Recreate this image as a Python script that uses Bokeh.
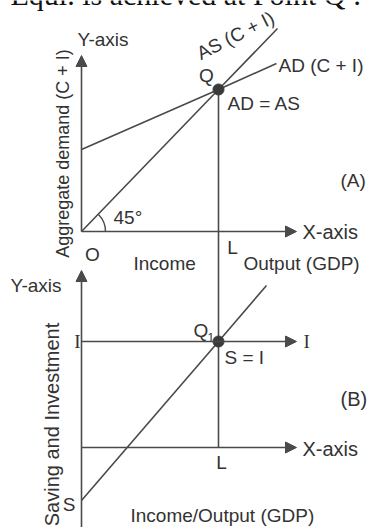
import math
from bokeh.plotting import figure
from bokeh.models import Range1d, Arrow, NormalHead
from bokeh.core.properties import value
from bokeh.embed import file_html
from bokeh.resources import INLINE

# ---- diagram data (units ~ pixels, origin at point O of panel A, y up) ----
income_L = 137                 # equilibrium income OL
x_axis_end = 215               # length of the X-axes
yA_axis_top = 176              # top of Y-axis, panel (A)
ad_x = [0, 137, 195]           # AD (C + I) schedule
ad_y = [82, 142, 168]
as_x = [0, 137, 196]           # AS (C + I) 45-degree line
as_y = [0, 142, 203]
q_point = [137, 142]           # Q : AD = AS

b_origin = -216                # origin of panel (B)
yB_axis_top = -39
yB_axis_bottom = -300
invest_level = -110            # I schedule
s_x = [0, 137, 185]            # saving schedule
s_y = [-269, -110, -54]
q1_point = [137, -110]         # Q1 : S = I

LINE = "#4a4a4a"
TXT = "#333333"
SANS = "Liberation Sans"
SERIF = "Liberation Serif"

p = figure(width=372, height=527, output_backend="svg", toolbar_location=None,
           x_range=Range1d(-81, 291), y_range=Range1d(-296, 231),
           min_border=0, outline_line_color=None, background_fill_color="white")
p.axis.visible = False
p.grid.visible = False

def arrow(x0, y0, x1, y1):
    p.add_layout(Arrow(end=NormalHead(size=11, fill_color=LINE, line_color=LINE, line_width=1),
                       x_start=x0, y_start=y0, x_end=x1, y_end=y1,
                       line_color=LINE, line_width=1.6))

# axes panel A
arrow(0, 0, 0, yA_axis_top)
arrow(0, 0, x_axis_end, 0)
# axes panel B
arrow(0, yB_axis_bottom, 0, yB_axis_top)
arrow(0, b_origin, x_axis_end, b_origin)
# investment line
arrow(0, invest_level, x_axis_end, invest_level)

# schedules
p.line(ad_x, ad_y, line_color=LINE, line_width=1.6)
p.line(as_x, as_y, line_color=LINE, line_width=1.6)
p.line(s_x, s_y, line_color=LINE, line_width=1.6)
# vertical through Q, L
p.line([income_L, income_L], [q_point[1], b_origin], line_color=LINE, line_width=1.6)

# 45 degree arc
p.arc(x=0, y=0, radius=24, start_angle=0, end_angle=math.pi / 4,
      line_color=LINE, line_width=1.4)

# equilibrium points
p.scatter([q_point[0], q1_point[0]], [q_point[1], q1_point[1]], size=11,
          fill_color="#3a3a3a", line_color="#3a3a3a")

def label(x, y, t, size=19, align="left", angle=0.0, font=SANS, baseline="middle", color=TXT):
    p.text(x=[x], y=[y], text=[t], text_font=value(font),
           text_font_size=f"{size}px", text_color=color, text_align=align,
           text_baseline=baseline, angle=angle)

# title line, mostly above the picture (cut off as in the original)
label(-71, 237, "Equi. is achieved at Point Q :", size=30, font=SERIF,
      baseline="alphabetic", color="#111111")

# panel A texts
label(-4, 192, "Y-axis")
label(-19, 78, "Aggregate demand (C + I)", size=18, align="center", angle=math.pi / 2)
label(154, 196, "AS (C + I)", align="center", angle=math.radians(27))
label(125, 156, "Q", align="center")
label(197, 166, "AD (C + I)")
label(146, 128, "AD = AS")
label(259, 51, "(A)")
label(32, 14, "45°")
label(221, 0, "X-axis", size=20)
label(11, -23, "O", align="center")
label(151, -16, "L", align="center")
label(52, -32, "Income")
label(162, -32, "Output (GDP)")

# panel B texts
label(-71, -54, "Y-axis")
label(-30, -193, "Saving and Investment", size=20, align="center", angle=math.pi / 2)
label(-1, invest_level, "I", size=19, align="right", font=SERIF)
label(222, invest_level, "I", size=19, font=SERIF)
label(112, -99, "Q")
label(126, -106, "1", size=12)
label(143, -126, "S = I")
label(259, -167, "(B)", size=20)
label(221, -217, "X-axis", size=20)
label(140, -231, "L", align="center")
label(-6, -273, "S", align="right")
label(49, -284, "Income/Output (GDP)")

open("out.html", "w").write(file_html(p, INLINE))
